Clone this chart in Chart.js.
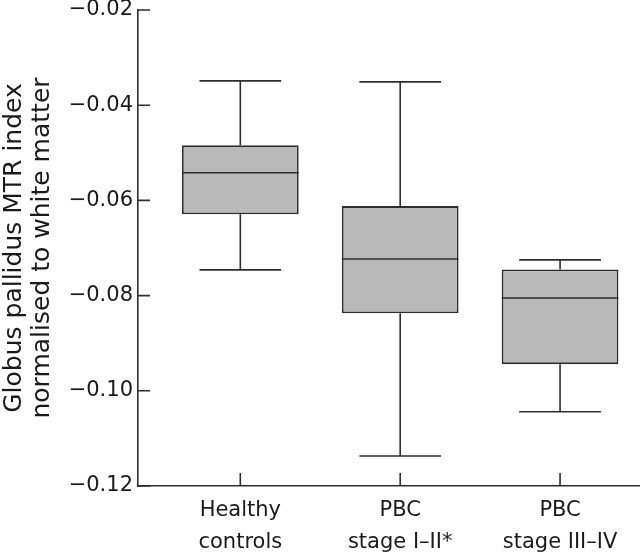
<!DOCTYPE html>
<html>
<head>
<meta charset="utf-8">
<script src="https://cdn.jsdelivr.net/npm/chart.js@4/dist/chart.umd.min.js"></script>
<style>
  html, body { margin: 0; padding: 0; background: #fff; }
  #wrap { width: 640px; height: 559px; position: relative; }
</style>
</head>
<body>
<div id="wrap"><canvas id="chart"></canvas></div>
<script>
// --- data ---
const groups = [['Healthy', 'controls'], ['PBC', 'stage I\u2013II*'], ['PBC', 'stage III\u2013IV']];
const positions = [1, 2, 3];
const whiskerLow = [-0.0746, -0.1137, -0.1044];
const q1 = [-0.0629, -0.0837, -0.0944];
const median = [-0.0542, -0.0723, -0.0805];
const q3 = [-0.0484, -0.0612, -0.0745];
const whiskerHigh = [-0.0349, -0.0351, -0.0725];

const INK = '#2e2e2e';
const FONT = 'DejaVu Sans';

// medians, whiskers and caps on top of the floating bars
const boxExtras = {
  id: 'boxExtras',
  afterDatasetsDraw(chart) {
    const { ctx, scales: { y } } = chart;
    const meta = chart.getDatasetMeta(0);
    ctx.save();
    ctx.strokeStyle = INK;
    ctx.lineWidth = 1.6;
    meta.data.forEach((bar, i) => {
      const half = bar.width / 2;
      const cap = half * 0.7;
      const x = bar.x;
      const yMed = y.getPixelForValue(median[i]);
      const yQ1 = y.getPixelForValue(q1[i]);
      const yQ3 = y.getPixelForValue(q3[i]);
      const yLo = y.getPixelForValue(whiskerLow[i]);
      const yHi = y.getPixelForValue(whiskerHigh[i]);
      ctx.beginPath();
      ctx.moveTo(x - half, yMed); ctx.lineTo(x + half, yMed);
      ctx.moveTo(x, yQ3); ctx.lineTo(x, yHi);
      ctx.moveTo(x - cap, yHi); ctx.lineTo(x + cap, yHi);
      ctx.moveTo(x, yQ1); ctx.lineTo(x, yLo);
      ctx.moveTo(x - cap, yLo); ctx.lineTo(x + cap, yLo);
      ctx.stroke();
    });
    ctx.restore();
  }
};

// tick marks point inwards
const innerTicks = {
  id: 'innerTicks',
  afterDraw(chart) {
    const { ctx, chartArea, scales: { x, y } } = chart;
    ctx.save();
    ctx.strokeStyle = INK;
    ctx.lineWidth = 1.6;
    ctx.beginPath();
    y.ticks.forEach(t => {
      const py = y.getPixelForValue(t.value);
      ctx.moveTo(chartArea.left, py); ctx.lineTo(chartArea.left + 12, py);
    });
    x.ticks.forEach(t => {
      const px = x.getPixelForValue(t.value);
      ctx.moveTo(px, chartArea.bottom); ctx.lineTo(px, chartArea.bottom - 13);
    });
    ctx.stroke();
    ctx.restore();
  }
};

new Chart(document.getElementById('chart'), {
  type: 'bar',
  data: {
    datasets: [{
      data: positions.map((p, i) => ({ x: p, y: [q1[i], q3[i]] })),
      backgroundColor: '#b9b9b9',
      borderColor: INK,
      borderWidth: 1.8,
      borderSkipped: false,
      categoryPercentage: 1,
      barPercentage: 0.73,
    }],
  },
  options: {
    responsive: true,
    maintainAspectRatio: false,
    animation: false,
    layout: { padding: { top: 10, right: 0, left: 0, bottom: 0 } },
    plugins: { legend: { display: false }, tooltip: { enabled: false } },
    scales: {
      x: {
        type: 'linear',
        offset: false,
        min: 0.36,
        max: 3.5,
        afterBuildTicks: (s) => { s.ticks = positions.map(v => ({ value: v })); },
        afterFit: (s) => { s.height = 73; s.paddingLeft = 0; s.paddingRight = 0; },
        grid: { display: false, drawTicks: false },
        border: { display: true, color: INK, width: 1.6 },
        ticks: {
          padding: 9,
          color: '#1a1a1a',
          maxRotation: 0,
          autoSkip: false,
          font: { family: FONT, size: 21, lineHeight: 1.52 },
          callback: (v) => groups[positions.indexOf(v)] || '',
        },
      },
      y: {
        min: -0.12,
        max: -0.02,
        afterFit: (s) => { s.width = 138; s.paddingTop = 0; s.paddingBottom = 0; },
        grid: { display: false, drawTicks: false },
        border: { display: true, color: INK, width: 1.6 },
        ticks: {
          stepSize: 0.02,
          padding: 5,
          color: '#1a1a1a',
          font: { family: FONT, size: 21 },
          callback: (v) => '\u2212' + Math.abs(v).toFixed(2),
        },
        title: {
          display: true,
          text: ['Globus pallidus MTR index', 'normalised to white matter'],
          color: '#1a1a1a',
          font: { family: FONT, size: 25, lineHeight: 1.12 },
          padding: { top: 0, bottom: 0 },
        },
      },
    },
  },
  plugins: [boxExtras, innerTicks],
});
</script>
</body>
</html>
